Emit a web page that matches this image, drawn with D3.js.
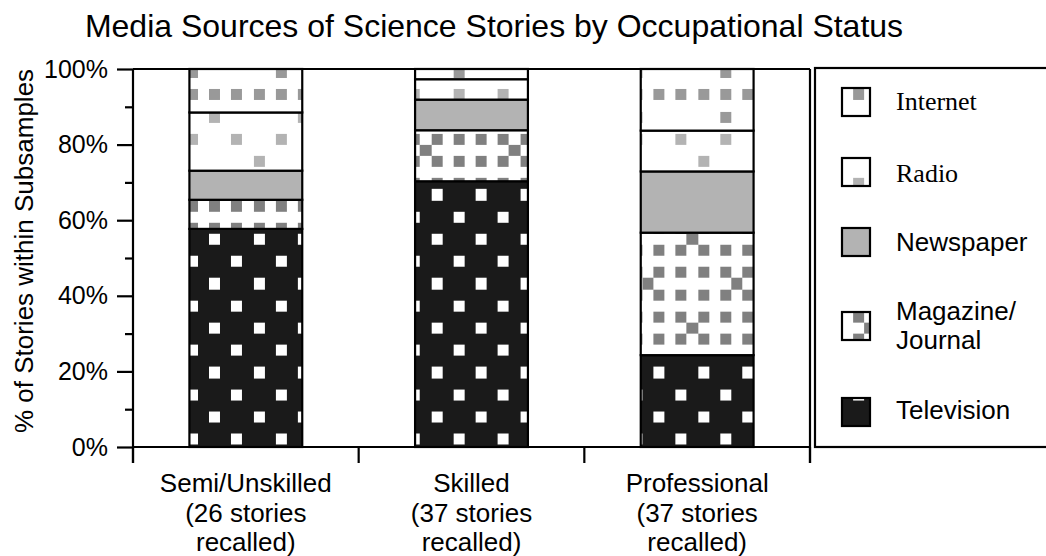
<!DOCTYPE html>
<html>
<head>
<meta charset="utf-8">
<script src="https://cdn.jsdelivr.net/npm/d3@7"></script>
<style>
  html, body { margin: 0; padding: 0; background: #fff; }
  svg { display: block; }
  text { font-family: "Liberation Sans", Arial, sans-serif; fill: #000; }
</style>
</head>
<body>
<svg id="chart" width="1046" height="556"></svg>
<script>
// ---- data ----
const categories = ["Semi/Unskilled", "Skilled", "Professional"];
const categoryLabels = [
  ["Semi/Unskilled", "(26 stories", "recalled)"],
  ["Skilled", "(37 stories", "recalled)"],
  ["Professional", "(37 stories", "recalled)"]
];
const seriesKeys = ["Television", "Magazine", "Newspaper", "Radio", "Internet"];
const television = [57.7, 70.3, 24.3];
const magazine   = [7.7, 13.5, 32.4];
const newspaper  = [7.7, 8.1, 16.2];
const radio      = [15.4, 5.4, 10.8];
const internet   = [11.5, 2.7, 16.3];
const yTicks = [0, 20, 40, 60, 80, 100];
const yMinorTicks = [10, 30, 50, 70, 90];
const legendOrder = ["Internet", "Radio", "Newspaper", "Magazine", "Television"];
const legendLabels = {
  Internet: ["Internet"], Radio: ["Radio"], Newspaper: ["Newspaper"],
  Magazine: ["Magazine/", "Journal"], Television: ["Television"]
};

// ---- layout ----
const svg = d3.select("#chart");
const plot = { left: 133, right: 810, top: 69, bottom: 447 };
const x = d3.scaleBand().domain(categories).range([plot.left, plot.right])
  .paddingInner(0.5).paddingOuter(0.25);
const y = d3.scaleLinear().domain([0, 100]).range([plot.bottom, plot.top]);

// ---- patterns (global bitmap-like pattern, cell p) ----
const p = 11.11;
const defs = svg.append("defs");
const patternDefs = {
  Television: { bg: "#1a1a1a", fg: "#ffffff",
    test: (i, j) => (i % 4 === 0 && j % 4 === 3) || (i % 4 === 2 && j % 4 === 1) },
  Magazine: { bg: "#ffffff", fg: "#808080",
    test: (i, j) => (i % 2 === 0 && j % 2 === 0) || (i === 3 && j === 7) || (i === 7 && j === 3) },
  Radio: { bg: "#ffffff", fg: "#b3b3b3",
    test: (i, j) => [[2,2],[6,2],[2,6],[6,6],[0,4],[4,0]].some(([a,b]) => a === i && b === j) },
  Internet: { bg: "#ffffff", fg: "#999999",
    test: (i, j) => (i % 2 === 0 && j === 2) || (i === 6 && j % 2 === 0) }
};
Object.entries(patternDefs).forEach(([key, d]) => {
  const pat = defs.append("pattern").attr("id", "pat-" + key)
    .attr("patternUnits", "userSpaceOnUse")
    .attr("x", 209).attr("y", 67).attr("width", 8 * p).attr("height", 8 * p);
  pat.append("rect").attr("width", 8 * p).attr("height", 8 * p).attr("fill", d.bg);
  const cells = [];
  for (let i = 0; i < 8; i++) for (let j = 0; j < 8; j++) if (d.test(i, j)) cells.push([i, j]);
  pat.selectAll("rect.c").data(cells).enter().append("rect").attr("class", "c")
    .attr("x", c => c[0] * p).attr("y", c => c[1] * p)
    .attr("width", p).attr("height", p).attr("fill", d.fg).attr("shape-rendering", "crispEdges");
});
const fillFor = k => k === "Newspaper" ? "#b3b3b3" : "url(#pat-" + k + ")";

// ---- title ----
svg.append("text").attr("x", 494).attr("y", 37).attr("text-anchor", "middle")
  .style("font-size", "32px").text("Media Sources of Science Stories by Occupational Status");

// ---- bars ----
const table = categories.map((c, i) => ({
  category: c, Television: television[i], Magazine: magazine[i],
  Newspaper: newspaper[i], Radio: radio[i], Internet: internet[i]
}));
const stacked = d3.stack().keys(seriesKeys)(table);
svg.append("g").selectAll("g").data(stacked).enter().append("g")
  .attr("fill", s => fillFor(s.key))
  .selectAll("rect").data(s => s).enter().append("rect")
  .attr("x", d => x(d.data.category))
  .attr("width", x.bandwidth())
  .attr("y", d => y(d[1]))
  .attr("height", d => y(d[0]) - y(d[1]))
  .attr("stroke", "#000").attr("stroke-width", 2.2);

// ---- axes ----
const yAxis = d3.axisLeft(y).tickValues(yTicks).tickFormat(d => d + "%")
  .tickSize(16).tickPadding(9);
const gy = svg.append("g").attr("transform", `translate(${plot.left},0)`).call(yAxis);
gy.select(".domain").remove();
gy.selectAll(".tick line").attr("stroke", "#000").attr("stroke-width", 2.2);
gy.selectAll(".tick text").style("font-size", "25px").style("font-family", "'Liberation Sans', Arial, sans-serif");
const gyMinor = d3.axisLeft(y).tickValues(yMinorTicks).tickSize(8).tickFormat("");
const gm = svg.append("g").attr("transform", `translate(${plot.left},0)`).call(gyMinor);
gm.select(".domain").remove();
gm.selectAll(".tick line").attr("stroke", "#000").attr("stroke-width", 2.2);

const tickLen = 16;
// axis lines / frame
const line = (x1, y1, x2, y2) => svg.append("line").attr("x1", x1).attr("y1", y1)
  .attr("x2", x2).attr("y2", y2).attr("stroke", "#000").attr("stroke-width", 2.2);
line(plot.left, plot.top, plot.left, plot.bottom + tickLen);
line(plot.left, plot.top, plot.right, plot.top);
line(plot.left, plot.bottom, plot.right, plot.bottom);
line(plot.right, plot.top, plot.right, plot.bottom + tickLen);
// category boundary ticks
const step = x.step();
const bounds = categories.map(c => x(c) + x.bandwidth() / 2 - step / 2).concat([plot.right]);
svg.append("g").selectAll("line").data(bounds).enter().append("line")
  .attr("x1", d => d).attr("x2", d => d).attr("y1", plot.bottom).attr("y2", plot.bottom + tickLen)
  .attr("stroke", "#000").attr("stroke-width", 2.2);
// category labels
const gx = svg.append("g");
categories.forEach((c, i) => {
  const t = gx.append("text").attr("x", x(c) + x.bandwidth() / 2).attr("y", 492)
    .attr("text-anchor", "middle").style("font-size", "26px");
  categoryLabels[i].forEach((ln, k) => t.append("tspan")
    .attr("x", x(c) + x.bandwidth() / 2).attr("dy", k === 0 ? 0 : 29.5).text(ln));
});

// y title
svg.append("text").attr("transform", "translate(33,251) rotate(-90)")
  .attr("text-anchor", "middle").style("font-size", "26px")
  .text("% of Stories within Subsamples");

// ---- legend ----
svg.append("rect").attr("x", 815).attr("y", 68).attr("width", 260).attr("height", 379)
  .attr("fill", "#fff").attr("stroke", "#000").attr("stroke-width", 2.2);
const swatchTop = { Internet: 88, Radio: 158, Newspaper: 228, Magazine: 312, Television: 398 };
const textBase = { Internet: [110], Radio: [182], Newspaper: [251], Magazine: [320, 349], Television: [419] };
const serif = { Internet: true, Radio: true };
legendOrder.forEach(k => {
  svg.append("rect").attr("x", 842).attr("y", swatchTop[k]).attr("width", 28).attr("height", 28)
    .attr("fill", fillFor(k)).attr("stroke", "#000").attr("stroke-width", 2.2);
  legendLabels[k].forEach((ln, idx) => {
    svg.append("text").attr("x", 896).attr("y", textBase[k][idx])
      .style("font-size", "26px")
      .style("font-family", serif[k] ? "'Liberation Serif', 'Times New Roman', serif" : "'Liberation Sans', Arial, sans-serif")
      .text(ln);
  });
});
</script>
</body>
</html>
